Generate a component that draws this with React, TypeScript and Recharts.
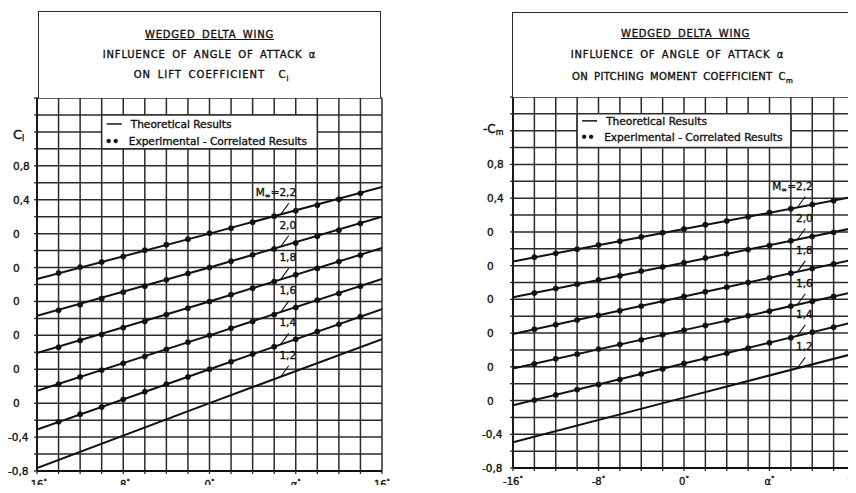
import React from 'react';
import {
  ComposedChart, Line, XAxis, YAxis, CartesianGrid, ReferenceArea, ReferenceDot, ReferenceLine,
} from 'recharts';

// angle of attack (deg)
const ALPHA_THEORY = [-16, 0, 16];
const ALPHA_EXP = [-14, -12, -10, -8, -6, -4, -2, 0, 2, 4, 6, 8, 10, 12, 14];
const ALPHA_TICKS = [-16, -14, -12, -10, -8, -6, -4, -2, 0, 2, 4, 6, 8, 10, 12, 14, 16];
const X_LABEL_AT = [-16, -8, 0, 8, 16];
const X_LABEL_TEXT = ['-16', '-8', '0', 'α', '16'];

// staggered ordinate: each Mach curve has its own zero
const Y_TICKS = [-0.8, -0.6, -0.4, -0.2, 0, 0.2, 0.4, 0.6, 0.8, 1, 1.2, 1.4, 1.6, 1.8, 2, 2.2, 2.4, 2.6, 2.8, 3, 3.2, 3.4, 3.6];
const Y_LABEL_AT = [-0.8, -0.4, 0, 0.4, 0.8, 1.2, 1.6, 2, 2.4, 2.8];
const Y_LABEL_TEXT = ['-0,8', '-0,4', '0', '0', '0', '0', '0', '0', '0,4', '0,8'];
const Y_TITLE_AT = 3.2;

const MACH = ['2,2', '2,0', '1,8', '1,6', '1,4', '1,2'];
const CURVE_ZERO = [2, 1.6, 1.2, 0.8, 0.4, 0];

// lift coefficient, theory at ALPHA_THEORY
const CL_TH_22 = [-0.535, 0, 0.55];
const CL_TH_20 = [-0.57, 0, 0.6];
const CL_TH_18 = [-0.61, 0, 0.63];
const CL_TH_16 = [-0.655, 0, 0.665];
const CL_TH_14 = [-0.71, 0, 0.71];
const CL_TH_12 = [-0.765, 0, 0.755];

// lift coefficient, experiment at ALPHA_EXP
const CL_EX_22 = [-0.465, -0.395, -0.335, -0.27, -0.195, -0.13, -0.065, 0.005, 0.065, 0.135, 0.205, 0.27, 0.335, 0.405, 0.475];
const CL_EX_20 = [-0.505, -0.44, -0.365, -0.29, -0.22, -0.145, -0.07, 0, 0.075, 0.15, 0.22, 0.29, 0.37, 0.44, 0.52];
const CL_EX_18 = [-0.54, -0.46, -0.39, -0.31, -0.235, -0.155, -0.08, 0, 0.08, 0.155, 0.235, 0.315, 0.39, 0.47, 0.545];
const CL_EX_16 = [-0.575, -0.49, -0.41, -0.33, -0.25, -0.165, -0.08, 0, 0.085, 0.165, 0.245, 0.33, 0.415, 0.495, 0.58];
const CL_EX_14 = [-0.62, -0.53, -0.445, -0.355, -0.265, -0.175, -0.09, 0, 0.09, 0.18, 0.265, 0.355, 0.445, 0.53, 0.62];

// pitching moment (-Cm), theory
const CM_TH_22 = [-0.35, 0.035, 0.42];
const CM_TH_20 = [-0.375, 0.035, 0.45];
const CM_TH_18 = [-0.41, 0.035, 0.475];
const CM_TH_16 = [-0.42, 0.035, 0.49];
const CM_TH_14 = [-0.455, 0.04, 0.535];
const CM_TH_12 = [-0.495, 0.035, 0.56];

// pitching moment (-Cm), experiment
const CM_EX_22 = [-0.3, -0.255, -0.205, -0.155, -0.11, -0.06, -0.01, 0.035, 0.085, 0.13, 0.18, 0.23, 0.275, 0.325, 0.37];
const CM_EX_20 = [-0.325, -0.27, -0.22, -0.17, -0.12, -0.065, -0.015, 0.035, 0.09, 0.14, 0.19, 0.24, 0.295, 0.345, 0.395];
const CM_EX_18 = [-0.355, -0.3, -0.245, -0.19, -0.135, -0.08, -0.02, 0.035, 0.09, 0.145, 0.2, 0.255, 0.31, 0.365, 0.42];
const CM_EX_16 = [-0.365, -0.305, -0.25, -0.19, -0.135, -0.08, -0.02, 0.035, 0.09, 0.15, 0.205, 0.26, 0.32, 0.375, 0.435];
const CM_EX_14 = [-0.395, -0.335, -0.27, -0.21, -0.15, -0.085, -0.025, 0.04, 0.1, 0.16, 0.22, 0.285, 0.345, 0.41, 0.47];

const INK = '#111';
const GRID = '#2b2b2b';
const FONT = '"DejaVu Sans", Arial, sans-serif';
const H = 493;
// thicken glyphs a little, like the inked lettering
const TXT = { fontFamily: FONT, fill: INK, stroke: INK, strokeWidth: 0.35 };

const near = (a: number, b: number) => Math.abs(a - b) < 1e-6;
// value on a theoretical line for alpha >= 0
const curveAt = (vals: number[], a: number) => vals[1] + ((vals[2] - vals[1]) * a) / 16;

const XTick = ({ x, payload, plotBottom }: any) => {
  const k = X_LABEL_AT.findIndex((t) => near(t, payload.value));
  if (k < 0) return <g />;
  return (
    <text x={x} y={plotBottom + 17} textAnchor="middle" fontSize={10} {...TXT}>
      {X_LABEL_TEXT[k]}
      <tspan fontSize={7} dy={-4}>°</tspan>
    </text>
  );
};

const YTick = ({ y, payload, plotLeft, dx, title }: any) => {
  const v = payload.value;
  if (near(v, Y_TITLE_AT)) return title(plotLeft, y);
  const k = Y_LABEL_AT.findIndex((t) => near(t, v));
  if (k < 0) return <g />;
  const s = Y_LABEL_TEXT[k];
  return (
    <text x={plotLeft - dx - (s.startsWith('-') ? 5 : 0)} y={y + 4} fontSize={10.5} {...TXT}>
      {s}
    </text>
  );
};

const legendBox = (rows: number[]) => (props: any) => {
  const { x, y } = props.viewBox;
  return (
    <g fontSize={10.6} {...TXT}>
      <line x1={x + 5} x2={x + 20} y1={y + rows[0]} y2={y + rows[0]} stroke={INK} strokeWidth={1.5} />
      <text x={x + 29} y={y + rows[0] + 4}>Theoretical Results</text>
      <circle cx={x + 7} cy={y + rows[1]} r={2} fill={INK} />
      <circle cx={x + 14} cy={y + rows[1]} r={2} fill={INK} />
      <text x={x + 27} y={y + rows[1] + 4}>Experimental - Correlated Results</text>
    </g>
  );
};

const machLabel = (i: number) => (props: any) => {
  const vb = props.viewBox;
  const cx = vb.x + (vb.width || 0) / 2;
  const cy = vb.y + (vb.height || 0) / 2;
  return (
    <text x={cx + 9} y={cy + 4} textAnchor="end" fontSize={10.5} {...TXT}>
      {i === 0 ? (
        <>
          <tspan>M</tspan>
          <tspan fontSize={7} dy={2}>∞</tspan>
          <tspan dy={-2}>{'=' + MACH[i]}</tspan>
        </>
      ) : (
        MACH[i]
      )}
    </text>
  );
};

type PanelProps = {
  left: number;
  width: number;
  margin: { top: number; right: number; bottom: number; left: number };
  theory: number[][];
  exp: number[][];
  labelDx: number;
  title: (x: number, y: number) => React.ReactNode;
  legendRows: number[];
  labelAlpha: number;
  leaderAlpha: number;
};

function Panel(p: PanelProps) {
  const plotLeft = p.margin.left + 36;
  const plotBottom = H - p.margin.bottom - 20;
  const lines = p.theory.map((vals, i) => ALPHA_THEORY.map((a, j) => ({ a, v: vals[j] + CURVE_ZERO[i] })));
  const dots = p.exp.map((vals, i) => ALPHA_EXP.map((a, j) => ({ a, v: vals[j] + CURVE_ZERO[i] })));
  return (
    <div style={{ position: 'absolute', left: p.left, top: 0 }}>
      <ComposedChart width={p.width} height={H} margin={p.margin}>
        <CartesianGrid stroke={GRID} strokeWidth={1.5} />
        <XAxis
          type="number"
          dataKey="a"
          domain={[-16, 16]}
          ticks={ALPHA_TICKS}
          interval={0}
          height={20}
          tickSize={3}
          tickLine={{ stroke: GRID, strokeWidth: 1.3 }}
          axisLine={{ stroke: INK, strokeWidth: 1.8 }}
          tick={<XTick plotBottom={plotBottom} />}
          allowDataOverflow
        />
        <YAxis
          type="number"
          domain={[-0.8, 3.6]}
          ticks={Y_TICKS}
          interval={0}
          width={36}
          tickSize={3}
          tickLine={{ stroke: GRID, strokeWidth: 1.3 }}
          axisLine={{ stroke: INK, strokeWidth: 1.8 }}
          tick={<YTick plotLeft={plotLeft} dx={p.labelDx} title={p.title} />}
          allowDataOverflow
        />
        <ReferenceArea
          x1={-10}
          x2={10}
          y1={3}
          y2={3.4}
          fill="#fff"
          fillOpacity={1}
          stroke={GRID}
          strokeWidth={1.5}
          label={{ content: legendBox(p.legendRows) }}
        />
        {lines.map((d, i) => (
          <Line
            key={'t' + i}
            data={d}
            dataKey="v"
            stroke={INK}
            strokeWidth={2}
            dot={false}
            activeDot={false}
            isAnimationActive={false}
          />
        ))}
        {dots.map((d, i) => (
          <Line
            key={'e' + i}
            data={d}
            dataKey="v"
            stroke="none"
            dot={{ r: 2.7, fill: INK, stroke: INK, strokeWidth: 0.4 }}
            activeDot={false}
            isAnimationActive={false}
          />
        ))}
        {p.theory.map((vals, i) => {
          const c = curveAt(vals, p.leaderAlpha) + CURVE_ZERO[i];
          return (
            <ReferenceLine
              key={'l' + i}
              segment={[
                { x: p.leaderAlpha + 0.75, y: c + 0.13 },
                { x: p.leaderAlpha, y: c },
              ]}
              stroke={INK}
              strokeWidth={1.1}
              ifOverflow="visible"
            />
          );
        })}
        {p.theory.map((vals, i) => {
          const c = curveAt(vals, p.leaderAlpha) + CURVE_ZERO[i];
          return (
            <ReferenceDot
              key={'m' + i}
              x={p.labelAlpha}
              y={c + 0.26}
              r={0}
              fill="none"
              stroke="none"
              ifOverflow="visible"
              label={{ content: machLabel(i) }}
            />
          );
        })}
      </ComposedChart>
    </div>
  );
}

const titleLine = (top: number, extra?: React.CSSProperties) => ({
  position: 'absolute' as const,
  left: 0,
  right: 0,
  top: top - 7,
  lineHeight: '14px',
  textAlign: 'center' as const,
  whiteSpace: 'nowrap' as const,
  ...extra,
});

function TitleBox({ left, top, width, height, lines, third, thirdSpacing, shift, noRight }: any) {
  return (
    <div
      style={{
        position: 'absolute',
        left,
        top,
        width,
        height,
        boxSizing: 'border-box',
        border: `1.6px solid ${GRID}`,
        borderBottom: 'none',
        borderRight: noRight ? 'none' : `1.6px solid ${GRID}`,
        background: '#fff',
        fontFamily: FONT,
        fontSize: 10,
        letterSpacing: 0.8,
        wordSpacing: 2.5,
        color: INK,
        WebkitTextStroke: '0.35px #111',
      }}
    >
      <div style={titleLine(lines[0], { textDecoration: 'underline' })}>WEDGED DELTA WING</div>
      <div style={titleLine(lines[1], { transform: `translateX(${shift[1]}px)` })}>INFLUENCE OF ANGLE OF ATTACK α</div>
      <div style={titleLine(lines[2], { letterSpacing: thirdSpacing, transform: `translateX(${shift[2]}px)` })}>{third}</div>
    </div>
  );
}

const clTitle = (x: number, y: number) => (
  <text x={x - 24} y={y + 7} fontSize={13} {...TXT}>
    C<tspan fontSize={8} dy={2}>l</tspan>
  </text>
);

const cmTitle = (x: number, y: number) => (
  <text x={x - 30} y={y + 2} fontSize={12} {...TXT}>
    -C<tspan fontSize={8} dy={2}>m</tspan>
  </text>
);

export default function App() {
  return (
    <div style={{ margin: -8, width: 856, height: H, overflow: 'hidden', position: 'relative', background: '#fff' }}>
      <Panel
        left={0}
        width={430}
        margin={{ top: 98, right: 48, bottom: 2, left: 1 }}
        theory={[CL_TH_22, CL_TH_20, CL_TH_18, CL_TH_16, CL_TH_14, CL_TH_12]}
        exp={[CL_EX_22, CL_EX_20, CL_EX_18, CL_EX_16, CL_EX_14]}
        labelDx={24}
        title={clTitle}
        legendRows={[9, 26]}
        labelAlpha={7.2}
        leaderAlpha={6.6}
      />
      <Panel
        left={430}
        width={426}
        margin={{ top: 97, right: 1, bottom: 5, left: 47 }}
        theory={[CM_TH_22, CM_TH_20, CM_TH_18, CM_TH_16, CM_TH_14, CM_TH_12]}
        exp={[CM_EX_22, CM_EX_20, CM_EX_18, CM_EX_16, CM_EX_14]}
        labelDx={26}
        title={cmTitle}
        legendRows={[7, 23]}
        labelAlpha={11.2}
        leaderAlpha={10.6}
      />
      <TitleBox
        left={38}
        top={11}
        width={343}
        height={87}
        lines={[23, 43, 63]}
        shift={[0, 0, 2]}
        thirdSpacing={1}
        third={
          <span>
            ON LIFT COEFFICIENT{'\u00a0\u00a0'}C<sub style={{ fontSize: 7 }}>l</sub>
          </span>
        }
      />
      <TitleBox
        left={512}
        top={12}
        width={346}
        height={85}
        noRight
        lines={[21, 42, 64]}
        shift={[0, -8, -3]}
        thirdSpacing={0.35}
        third={
          <span>
            ON PITCHING MOMENT COEFFICIENT C<sub style={{ fontSize: 7 }}>m</sub>
          </span>
        }
      />
    </div>
  );
}
